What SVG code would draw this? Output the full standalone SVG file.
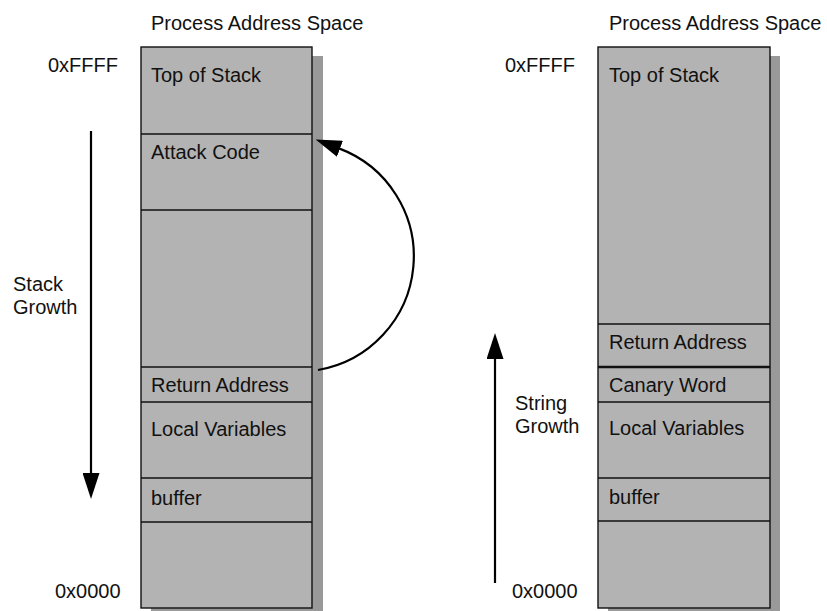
<svg xmlns="http://www.w3.org/2000/svg" width="827" height="611" viewBox="0 0 827 611">
<style>
text{font-family:"Liberation Sans",Arial,sans-serif;font-size:20px;fill:#111}
.shadow{fill:#999}
.box{fill:#b3b3b3;stroke:#111;stroke-width:1.4}
.div{stroke:#111;stroke-width:1.4}
.conn{fill:none;stroke:#000;stroke-width:2.2}
</style>
<defs>
<marker id="ah" markerUnits="userSpaceOnUse" markerWidth="26" markerHeight="17" viewBox="0 0 26 17" refX="1" refY="8.5" orient="auto">
<path d="M0,0 L26,8.5 L0,17 z" fill="#000"/>
</marker>
</defs>
<rect width="827" height="611" fill="#fff"/>

<g id="title-left"><text x="151" y="30">Process Address Space</text></g>
<g id="title-right"><text x="609" y="30">Process Address Space</text></g>

<g id="labels-left">
<text x="48" y="72">0xFFFF</text>
<text x="55" y="598">0x0000</text>
<text x="13" y="291">Stack</text>
<text x="13" y="314">Growth</text>
</g>
<g id="labels-right">
<text x="505" y="72">0xFFFF</text>
<text x="512" y="598">0x0000</text>
<text x="515" y="410">String</text>
<text x="515" y="433">Growth</text>
</g>

<g id="stack-left">
<rect class="shadow" x="151" y="56" width="172" height="561"/>
<rect class="box" x="141" y="47" width="171" height="561"/>
<line class="div" x1="141" y1="134" x2="312" y2="134"/>
<line class="div" x1="141" y1="210" x2="312" y2="210"/>
<line class="div" x1="141" y1="367" x2="312" y2="367"/>
<line class="div" x1="141" y1="402" x2="312" y2="402"/>
<line class="div" x1="141" y1="478" x2="312" y2="478"/>
<line class="div" x1="141" y1="522" x2="312" y2="522"/>
<text x="151" y="82">Top of Stack</text>
<text x="151" y="159">Attack Code</text>
<text x="151" y="392">Return Address</text>
<text x="151" y="436">Local Variables</text>
<text x="151" y="505">buffer</text>
</g>

<g id="stack-right">
<rect class="shadow" x="608" y="56" width="172" height="561"/>
<rect class="box" x="598" y="47" width="172" height="561"/>
<line class="div" x1="598" y1="324" x2="770" y2="324"/>
<line class="div" x1="598" y1="367" x2="770" y2="367" style="stroke-width:2.4"/>
<line class="div" x1="598" y1="402" x2="770" y2="402"/>
<line class="div" x1="598" y1="478" x2="770" y2="478"/>
<line class="div" x1="598" y1="521" x2="770" y2="521"/>
<text x="609" y="82">Top of Stack</text>
<text x="609" y="349">Return Address</text>
<text x="609" y="392">Canary Word</text>
<text x="609" y="435">Local Variables</text>
<text x="609" y="504">buffer</text>
</g>

<g id="connectors">
<path class="conn" d="M91,131 L91,474" marker-end="url(#ah)"/>
<path class="conn" d="M495,583 L495,358" marker-end="url(#ah)"/>
<path class="conn" d="M318,370 A115.3,115.3 0 0 0 339,148.4" marker-end="url(#ah)"/>
</g>
</svg>
